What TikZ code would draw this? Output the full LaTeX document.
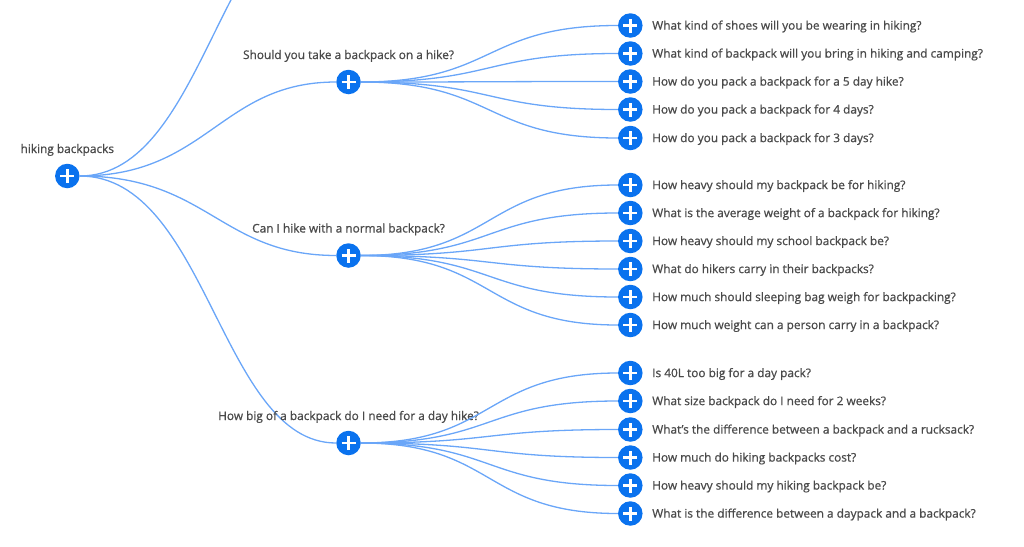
\documentclass[tikz,border=0pt]{standalone}
\usepackage{fontspec}
\setmainfont[FakeBold=0.8]{Open Sans}
\usetikzlibrary{positioning}
\definecolor{plusblue}{HTML}{0A72EE}
\definecolor{linkblue}{HTML}{6AA6F8}
\definecolor{textgrey}{HTML}{4A4A4A}
\tikzset{
        x=1pt, y=-1pt,
        % Round buttons with a white plus
        node_plus/.style={circle, inner sep=0pt, fill=plusblue, minimum size=24.5pt,
            path picture={\draw[white, line width=2.5pt]
                ([xshift=-7pt]path picture bounding box.center) -- ([xshift=7pt]path picture bounding box.center)
                ([yshift=-7pt]path picture bounding box.center) -- ([yshift=7pt]path picture bounding box.center);}},
        % Question labels
        node_text/.style={inner sep=0pt, text=textgrey, font=\fontsize{11.85pt}{14pt}\selectfont},
        % Curved links
        link/.style={draw=linkblue, line width=1.3pt}
}
\begin{document}
\begin{tikzpicture}
        \clip (0,0) rectangle (1024,546);
        % Left part
        \node[node_plus] (root) at (67.3,176) {};
        \node[node_text, above=7.5pt of root] (root_text) {hiking backpacks};
        \coordinate (top_end) at (348,-108);
        \node[node_plus] (mid1) at (348.5,82) {};
        \node[node_plus] (mid2) at (348.5,255.5) {};
        \node[node_plus] (mid3) at (348.5,443) {};
        \node[node_text, above=7.5pt of mid1] (mid1_text) {Should you take a backpack on a hike?};
        \node[node_text, above=7.5pt of mid2] (mid2_text) {Can I hike with a normal backpack?};
        \foreach \target in {top_end,mid1,mid2,mid3}
            \draw[link] (root.east) .. controls +(128,0) and +(-128,0) .. (\target);
        \node[node_text, above=7.5pt of mid3] (mid3_text) {How big of a backpack do I need for a day hike?};
        % First group
        \foreach \leaf/\ypos/\question in {
            a1/25.5/What kind of shoes will you be wearing in hiking?,
            a2/53.5/What kind of backpack will you bring in hiking and camping?,
            a3/81.5/How do you pack a backpack for a 5 day hike?,
            a4/109.5/How do you pack a backpack for 4 days?,
            a5/138/How do you pack a backpack for 3 days?
        }{
            \node[node_plus] (\leaf) at (630.3,\ypos) {};
            \node[node_text, right=9.3pt of \leaf, yshift=-1pt] (\leaf_text) {\question};
            \draw[link] (mid1.east) .. controls +(135,0) and +(-135,0) .. (\leaf.west);
        }
        % Second group
        \foreach \leaf/\ypos/\question in {
            b1/185/How heavy should my backpack be for hiking?,
            b2/213/What is the average weight of a backpack for hiking?,
            b3/241/How heavy should my school backpack be?,
            b4/269/What do hikers carry in their backpacks?,
            b5/297/How much should sleeping bag weigh for backpacking?,
            b6/325/How much weight can a person carry in a backpack?
        }{
            \node[node_plus] (\leaf) at (630.3,\ypos) {};
            \node[node_text, right=9.3pt of \leaf, yshift=-1pt] (\leaf_text) {\question};
            \draw[link] (mid2.east) .. controls +(135,0) and +(-135,0) .. (\leaf.west);
        }
        % Third group
        \foreach \leaf/\ypos/\question in {
            c1/373/Is 40L too big for a day pack?,
            c2/401/What size backpack do I need for 2 weeks?,
            c3/429.5/What's the difference between a backpack and a rucksack?,
            c4/457.5/How much do hiking backpacks cost?,
            c5/485.5/How heavy should my hiking backpack be?,
            c6/513.5/What is the difference between a daypack and a backpack?
        }{
            \node[node_plus] (\leaf) at (630.3,\ypos) {};
            \node[node_text, right=9.3pt of \leaf, yshift=-1pt] (\leaf_text) {\question};
            \draw[link] (mid3.east) .. controls +(135,0) and +(-135,0) .. (\leaf.west);
        }
\end{tikzpicture}
\end{document}
